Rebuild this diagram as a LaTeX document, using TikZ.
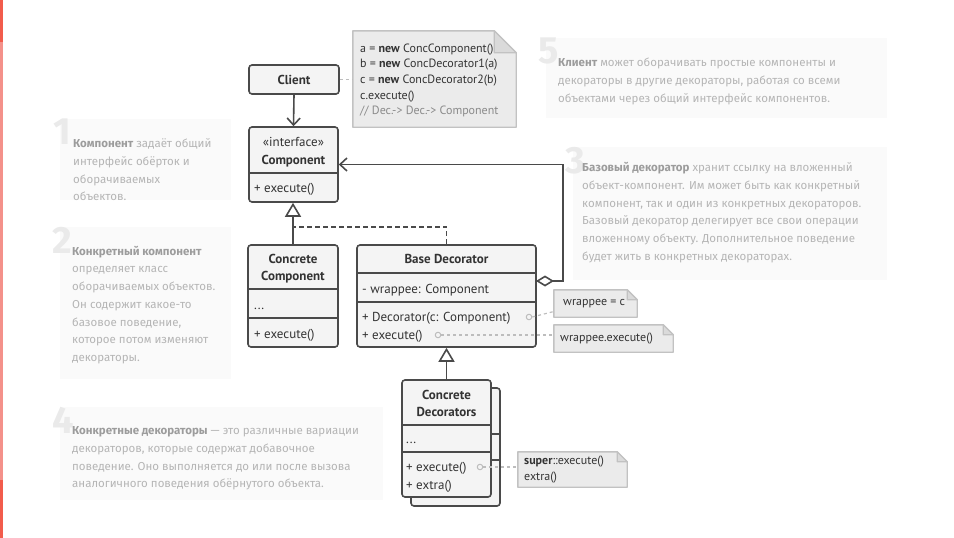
\documentclass[tikz,border=0pt]{standalone}
\usepackage{fontspec}
\setmainfont{PT Sans}
\newfontfamily\descfont{Fira Sans}
\usetikzlibrary{arrows.meta,positioning,calc}
\definecolor{umlline}{HTML}{4A4A4A}
\definecolor{umltext}{HTML}{333333}
\definecolor{boxfill}{HTML}{F4F4F4}
\definecolor{notefill}{HTML}{EBEBEB}
\definecolor{noteline}{HTML}{C2C2C2}
\definecolor{foldfill}{HTML}{DADADA}
\definecolor{dotgray}{HTML}{BDBDBD}
\definecolor{commentgray}{HTML}{8A8A8A}
\definecolor{panelfill}{HTML}{FAFAFA}
\definecolor{numgray}{HTML}{EAEAEA}
\definecolor{desctext}{HTML}{B5B5B5}
\definecolor{descbold}{HTML}{9C9C9C}
\definecolor{barred}{HTML}{F25C4C}
\definecolor{barpink}{HTML}{F4918A}
\tikzset{
    % Class box outline
    umlbox/.style={draw=umlline,fill=boxfill,line width=1.6pt,rounded corners=3pt,inner sep=0pt},
    % Class name
    umltitle/.style={font=\fontsize{13}{17.5}\selectfont,text=umltext,align=center,inner sep=0pt},
    % Fields and methods
    umlmember/.style={font=\fontsize{13}{18}\selectfont,text=umltext,anchor=base west,inner sep=0pt},
    % Compartment line
    divider/.style={draw=umlline,line width=1.6pt},
    % Association
    assoc/.style={draw=umlline,line width=1.6pt,-{Straight Barb[length=7pt,width=13pt]}},
    % Inheritance
    inherit/.style={draw=umlline,line width=1.6pt,-{Triangle[length=14pt,width=16pt,fill=white]}},
    realline/.style={draw=umlline,line width=1.6pt,dash pattern=on 5pt off 3pt},
    % Aggregation
    aggr/.style={draw=umlline,line width=1.6pt,{Diamond[length=18pt,width=11pt,fill=white]}-{Straight Barb[length=7pt,width=13pt]}},
    % Notes
    notearea/.style={inner sep=0pt},
    notebox/.style={fill=notefill,draw=noteline,line width=1.4pt,line join=round},
    notefold/.style={fill=foldfill,draw=noteline,line width=1.2pt,line join=round},
    notetext/.style={font=\fontsize{12}{15.7}\selectfont,text=umltext,align=left,anchor=west,inner sep=0pt},
    notedot/.style={circle,draw=dotgray,line width=1pt,minimum size=5.5pt,inner sep=0pt},
    noteconn/.style={draw=dotgray,line width=1.2pt,dash pattern=on 3pt off 3pt},
    % Description panels
    panel/.style={fill=panelfill},
    panelnum/.style={font=\descfont\fontsize{38}{38}\selectfont\bfseries,text=numgray,anchor=north west,inner sep=0pt},
    desc/.style={font=\descfont\fontsize{11.5}{17.7}\selectfont,text=desctext,align=left,anchor=west,inner sep=0pt}
}
\newcommand{\hl}[1]{\textbf{\color{descbold}#1}}
% Note outline with folded corner
\newcommand{\drawnote}[2]{%
    \draw[notebox] (#1.south west) -- (#1.south east) -- ([yshift=-#2]#1.north east)
        -- ([xshift=-#2]#1.north east) -- (#1.north west) -- cycle;
    \draw[notefold] ([xshift=-#2]#1.north east) -- ([xshift=-#2,yshift=-#2]#1.north east)
        -- ([yshift=-#2]#1.north east) -- cycle;
}

\begin{document}
\begin{tikzpicture}[x=1pt,y=-1pt]
    \useasboundingbox (0,0) rectangle (954,538);

    % Side bar
    \fill[barred] (0,0) rectangle (2.5,42);
    \fill[barpink] (0,42) rectangle (2.5,480);
    \fill[barred] (0,480) rectangle (2.5,538);

    % Description panels
    \fill[panel] (60,119) rectangle (231,200);
    \node[panelnum] (num1) at (53,119) {1};
    \node[desc] (desc1) at (73,170) {\hl{Компонент} задаёт общий\\интерфейс обёрток и\\оборачиваемых\\объектов.};

    \fill[panel] (60,227) rectangle (231,379);
    \node[panelnum] (num2) at (52,227) {2};
    \node[desc] (desc2) at (72,305) {\hl{Конкретный компонент}\\определяет класс\\оборачиваемых объектов.\\Он содержит какое-то\\базовое поведение,\\которое потом изменяют\\декораторы.};

    \fill[panel] (573,147) rectangle (887,280);
    \node[panelnum] (num3) at (565,147) {3};
    \node[desc] (desc3) at (582,212.5) {\hl{Базовый декоратор} хранит ссылку на вложенный\\объект-компонент. Им может быть как конкретный\\компонент, так и один из конкретных декораторов.\\Базовый декоратор делегирует все свои операции\\вложенному объекту. Дополнительное поведение\\будет жить в конкретных декораторах.};

    \fill[panel] (60,407) rectangle (383,500);
    \node[panelnum] (num4) at (52,407) {4};
    \node[desc] (desc4) at (72,458.5) {\hl{Конкретные декораторы} — это различные вариации\\декораторов, которые содержат добавочное\\поведение. Оно выполняется до или после вызова\\аналогичного поведения обёрнутого объекта.};

    \fill[panel] (546,38) rectangle (887,118);
    \node[panelnum] (num5) at (538,38) {5};
    \node[desc] (desc5) at (558,81.5) {\hl{Клиент} может оборачивать простые компоненты и\\декораторы в другие декораторы, работая со всеми\\объектами через общий интерфейс компонентов.};

    % Client
    \node[umlbox,minimum width=90pt,minimum height=29pt] (client) at (294,79.5) {};
    \node[umltitle] (clienttitle) at (client.center) {\bfseries Client};

    % Component
    \node[umlbox,minimum width=89pt,minimum height=75pt] (component) at (293.5,164.5) {};
    \node[umltitle] (comptitle) at (293.5,152) {«interface»\\\textbf{Component}};
    \draw[divider] (component.west |- 0,173) -- (component.east |- 0,173);
    \node[umlmember] (compexec) at (254,192.5) {+ execute()};

    % Concrete Component
    \node[umlbox,minimum width=90pt,minimum height=102pt] (concomp) at (293,296) {};
    \node[umltitle] (concomptitle) at (293,268.5) {\bfseries Concrete\\\bfseries Component};
    \draw[divider] (concomp.west |- 0,289) -- (concomp.east |- 0,289);
    \draw[divider] (concomp.west |- 0,318) -- (concomp.east |- 0,318);
    \node[umlmember] (concompdots) at (254,309) {...};
    \node[umlmember] (concompexec) at (254,338.5) {+ execute()};

    % Base Decorator
    \node[umlbox,minimum width=179pt,minimum height=102pt] (basedec) at (446.5,296) {};
    \node[umltitle] (basedectitle) at (446.5,259) {\bfseries Base Decorator};
    \draw[divider] (basedec.west |- 0,273) -- (basedec.east |- 0,273);
    \draw[divider] (basedec.west |- 0,302) -- (basedec.east |- 0,302);
    \node[umlmember] (wrappee) at (362,293.5) {- wrappee: Component};
    \node[umlmember] (decctor) at (362,321.5) {+ Decorator(c: Component)};
    \node[umlmember] (decexec) at (362,339.5) {+ execute()};
    \node[notedot] (ctordot) at (529,317) {};
    \node[notedot] (execdot) at (438,335) {};

    % Concrete Decorators (stacked)
    \node[umlbox,minimum width=89pt,minimum height=118pt] (concdecback) at (455.5,447) {};
    \draw[divider] (concdecback.west |- 0,434) -- (concdecback.east |- 0,434);
    \draw[divider] (concdecback.west |- 0,460) -- (concdecback.east |- 0,460);
    \node[umlbox,minimum width=89pt,minimum height=117pt] (concdec) at (446.5,438.5) {};
    \node[umltitle] (concdectitle) at (446.5,403.5) {\bfseries Concrete\\\bfseries Decorators};
    \draw[divider] (concdec.west |- 0,425) -- (concdec.east |- 0,425);
    \draw[divider] (concdec.west |- 0,452) -- (concdec.east |- 0,452);
    \node[umlmember] (concdecdots) at (406,443) {...};
    \node[umlmember] (concdecexec) at (406,471.5) {+ execute()};
    \node[umlmember] (concdecextra) at (406,489.5) {+ extra()};
    \node[notedot] (superdot) at (480,467) {};

    % Notes
    \node[notearea,minimum width=163pt,minimum height=96pt] (codenote) at (434.5,79) {};
    \drawnote{codenote}{22pt}
    \node[notetext] (codetext) at (360,80.5) {a = \textbf{new} ConcComponent()\\b = \textbf{new} ConcDecorator1(a)\\c = \textbf{new} ConcDecorator2(b)\\c.execute()\\{\color{commentgray}// Dec.-> Dec.-> Component}};

    \node[notearea,minimum width=83pt,minimum height=27pt] (ctornote) at (595.5,303.5) {};
    \drawnote{ctornote}{10pt}
    \node[notetext] (ctortext) at (563,303.5) {wrappee = c};

    \node[notearea,minimum width=119pt,minimum height=27pt] (execnote) at (613.5,338.5) {};
    \drawnote{execnote}{10pt}
    \node[notetext] (exectext) at (560,338.5) {wrappee.execute()};

    \node[notearea,minimum width=109pt,minimum height=35pt] (supernote) at (572.5,469.5) {};
    \drawnote{supernote}{10pt}
    \node[notetext] (supertext) at (524,469.5) {\textbf{super}::execute()\\extra()};

    % Connectors
    \draw[assoc] (client.south) -- (component.north);
    \draw[inherit] (concomp.north) -- (concomp.north |- component.south);
    \coordinate (realfork) at (293,227);
    \draw[realline] (basedec.north) |- (realfork);
    \coordinate (bdagg) at (536,281);
    \draw[aggr] (bdagg) -- ++(27,0) |- (component.east);
    \draw[inherit] (concdec.north) -- (basedec.south);

    % Note links
    \draw[noteconn] (client.east) -- (client.east -| codenote.west);
    \draw[noteconn] (ctordot.east) -- ([yshift=-8pt]ctornote.west);
    \draw[noteconn] (execdot.east) -- (execdot.east -| execnote.west);
    \draw[noteconn] (superdot.east) -- (superdot.east -| supernote.west);
\end{tikzpicture}
\end{document}
